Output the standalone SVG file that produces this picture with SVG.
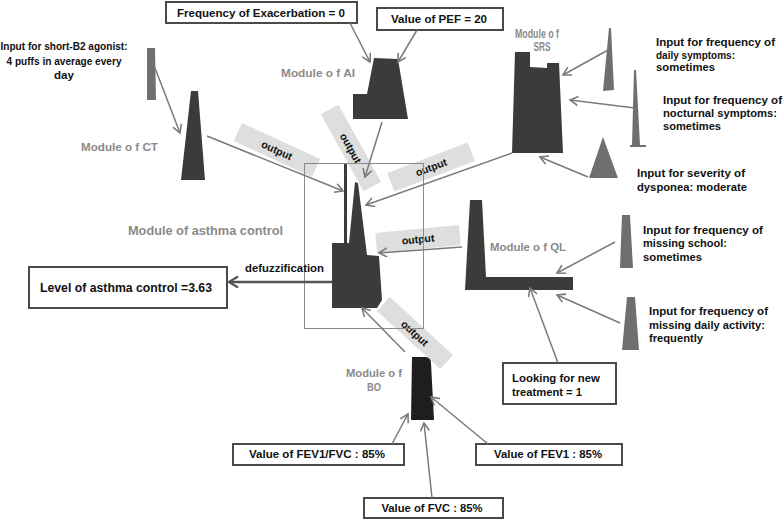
<svg xmlns="http://www.w3.org/2000/svg" width="784" height="520" viewBox="0 0 784 520">
<style>
text{font-family:"Liberation Sans",Arial,sans-serif;font-weight:bold;fill:#111;}
.t{font-size:11.5px;}
.m{font-size:11px;fill:#8a8a8a;}
.c{text-anchor:middle;}
.box{fill:#fff;stroke:#4a4a4a;stroke-width:2;}
.mod{fill:#3b3b3b;}
.inp{fill:#6f6f6f;}
.ob{fill:#dedede;}
.ot{font-size:10.5px;text-anchor:middle;}
.ln{stroke:#7a7a7a;stroke-width:1.5;fill:none;marker-end:url(#ah);}
</style>
<defs>
<marker id="ah" markerUnits="userSpaceOnUse" markerWidth="12" markerHeight="12" refX="9" refY="5" orient="auto">
<path d="M1,0.5 L9,5 L1,9.5" fill="none" stroke="#7a7a7a" stroke-width="1.6"/>
</marker>
<marker id="ah2" markerUnits="userSpaceOnUse" markerWidth="14" markerHeight="14" refX="10" refY="6" orient="auto">
<path d="M1,0.5 L10,6 L1,11.5" fill="none" stroke="#555" stroke-width="2.2"/>
</marker>
</defs>
<rect width="784" height="520" fill="#fff"/>

<g id="output-labels">
<g transform="translate(277,150) rotate(24.7)"><rect class="ob" x="-43" y="-10" width="86" height="20"/><text class="ot" y="4">output</text></g>
<g transform="translate(351,148) rotate(61)"><rect class="ob" x="-44" y="-10" width="88" height="20"/><text class="ot" y="4">output</text></g>
<g transform="translate(431,167) rotate(-20.8)"><rect class="ob" x="-43" y="-10" width="86" height="20"/><text class="ot" y="4">output</text></g>
<g transform="translate(418,239) rotate(-5.5)"><rect class="ob" x="-42" y="-10" width="84" height="20"/><text class="ot" y="4">output</text></g>
<g transform="translate(415,333) rotate(42.6)"><rect class="ob" x="-43" y="-9.5" width="86" height="19"/><text class="ot" y="4">output</text></g>
</g>

<g id="n-ct-input">
<text class="t c" x="64" y="50" textLength="127" lengthAdjust="spacingAndGlyphs">Input for short-B2 agonist:</text>
<text class="t c" x="64" y="65" textLength="115" lengthAdjust="spacingAndGlyphs">4 puffs in average every</text>
<text class="t c" x="64" y="79" textLength="20" lengthAdjust="spacingAndGlyphs">day</text>
<polygon class="inp" points="147,48 155,48 156,100 147,100"/>
</g>

<g id="n-ct">
<polygon class="mod" points="191,91 198,91 205,180 181,180"/>
<text class="m" x="81" y="151" textLength="77" lengthAdjust="spacingAndGlyphs">Module o f  CT</text>
</g>

<g id="n-exac">
<rect class="box" x="166" y="2" width="191" height="21"/>
<text class="t" x="177" y="17" textLength="168" lengthAdjust="spacingAndGlyphs">Frequency of Exacerbation = 0</text>
</g>

<g id="n-pef">
<rect class="box" x="377" y="8" width="126" height="22"/>
<text class="t" x="391" y="23" textLength="96" lengthAdjust="spacingAndGlyphs">Value of PEF = 20</text>
</g>

<g id="n-ai">
<polygon class="mod" points="374,58 398,59 408,119 353,119 353,94 367,94"/>
<text class="m" x="281" y="77" textLength="74" lengthAdjust="spacingAndGlyphs">Module o f  AI</text>
</g>

<g id="n-srs">
<polygon class="mod" points="515,52 530,52 530,67 547,68 547,63 559,63 563,153 512,153"/>
<text class="m c" x="537" y="38" style="font-size:12px" textLength="44" lengthAdjust="spacingAndGlyphs">Module o f</text>
<text class="m c" x="542" y="51" style="font-size:12px" textLength="17" lengthAdjust="spacingAndGlyphs">SRS</text>
</g>

<g id="n-in-daily">
<polygon class="inp" points="609,28 611,28 614,90 603,91"/>
<text class="t" x="656" y="46" textLength="119" lengthAdjust="spacingAndGlyphs">Input for frequency of</text>
<text class="t" x="656" y="59" textLength="79" lengthAdjust="spacingAndGlyphs">daily symptoms:</text>
<text class="t" x="656" y="71" textLength="59" lengthAdjust="spacingAndGlyphs">sometimes</text>
</g>

<g id="n-in-nocturnal">
<polygon class="inp" points="634,70 636,70 640,145 646,145 646,147 630,147 630,145 632,145"/>
<text class="t" x="663" y="104" textLength="119" lengthAdjust="spacingAndGlyphs">Input for frequency of</text>
<text class="t" x="663" y="117" textLength="114" lengthAdjust="spacingAndGlyphs">nocturnal symptoms:</text>
<text class="t" x="663" y="130" textLength="58" lengthAdjust="spacingAndGlyphs">sometimes</text>
</g>

<g id="n-in-dysp">
<polygon class="inp" points="603,137 618,178 589,178"/>
<text class="t" x="637" y="177" textLength="108" lengthAdjust="spacingAndGlyphs">Input for severity of</text>
<text class="t" x="637" y="191" textLength="110" lengthAdjust="spacingAndGlyphs">dysponea: moderate</text>
</g>

<g id="n-asthma">
<rect x="304.5" y="163.5" width="119" height="165" fill="none" stroke="#8a8a8a" stroke-width="1"/>
<polygon class="mod" points="332,243 344,243 344,164 347,164 347,243 349,243 355,182 358,183 367,255 379,256 382,300 377,308 332,308"/>
<text class="m" x="128" y="235" style="font-size:12px" textLength="155" lengthAdjust="spacingAndGlyphs">Module of asthma control</text>
<text class="t" x="245" y="272" textLength="79" lengthAdjust="spacingAndGlyphs">defuzzification</text>
</g>

<g id="n-level">
<rect class="box" x="29" y="267" width="198" height="41"/>
<text class="t" x="40" y="292" style="font-size:12.5px" textLength="172" lengthAdjust="spacingAndGlyphs">Level of asthma control =3.63</text>
</g>

<g id="n-ql">
<polygon class="mod" points="470,200 482,200 486,277 573,277 573,290 465,290"/>
<text class="m" x="490" y="251" textLength="76" lengthAdjust="spacingAndGlyphs">Module o f QL</text>
</g>

<g id="n-in-school">
<polygon class="inp" points="622,215 630,215 633,268 620,268"/>
<text class="t" x="643" y="234" textLength="120" lengthAdjust="spacingAndGlyphs">Input for frequency of</text>
<text class="t" x="643" y="247" textLength="84" lengthAdjust="spacingAndGlyphs">missing school:</text>
<text class="t" x="643" y="261" textLength="59" lengthAdjust="spacingAndGlyphs">sometimes</text>
</g>

<g id="n-in-activity">
<polygon class="inp" points="627,297 635,297 639,350 622,350"/>
<text class="t" x="649" y="315" textLength="119" lengthAdjust="spacingAndGlyphs">Input for frequency of</text>
<text class="t" x="649" y="329" textLength="116" lengthAdjust="spacingAndGlyphs">missing daily activity:</text>
<text class="t" x="649" y="342" textLength="54" lengthAdjust="spacingAndGlyphs">frequently</text>
</g>

<g id="n-newtreat">
<rect class="box" x="503" y="363" width="113" height="41"/>
<text class="t" x="512" y="382" textLength="88" lengthAdjust="spacingAndGlyphs">Looking for new</text>
<text class="t" x="512" y="396" textLength="70" lengthAdjust="spacingAndGlyphs">treatment = 1</text>
</g>

<g id="n-bo">
<path d="M412,357 L426,357 Q431,358 431,363 L434,420 L411,420 Z" fill="#1e1e1e"/>
<text class="m c" x="374" y="377" textLength="56" lengthAdjust="spacingAndGlyphs">Module o f</text>
<text class="m c" x="374" y="391" textLength="14" lengthAdjust="spacingAndGlyphs">BO</text>
</g>

<g id="n-fev1fvc">
<rect class="box" x="233" y="444" width="171" height="21"/>
<text class="t c" x="317" y="458" textLength="136" lengthAdjust="spacingAndGlyphs">Value of FEV1/FVC : 85%</text>
</g>

<g id="n-fev1">
<rect class="box" x="476" y="444" width="146" height="21"/>
<text class="t c" x="548" y="458" textLength="108" lengthAdjust="spacingAndGlyphs">Value of FEV1 : 85%</text>
</g>

<g id="n-fvc">
<rect class="box" x="364" y="498" width="139" height="20"/>
<text class="t c" x="432" y="512" textLength="101" lengthAdjust="spacingAndGlyphs">Value of FVC : 85%</text>
</g>

<g id="connectors">
<line class="ln" x1="155" y1="68" x2="180" y2="133"/>
<line class="ln" x1="350" y1="23" x2="370" y2="62"/>
<line class="ln" x1="417" y1="30" x2="398" y2="62"/>
<line class="ln" x1="608" y1="50" x2="563" y2="75"/>
<line class="ln" x1="635" y1="108" x2="570" y2="100"/>
<line class="ln" x1="588" y1="177" x2="540" y2="157"/>
<line class="ln" x1="207" y1="136" x2="343" y2="191"/>
<line class="ln" x1="382" y1="122" x2="365" y2="177"/>
<line class="ln" x1="512" y1="153" x2="366" y2="205"/>
<line class="ln" x1="462" y1="247" x2="379" y2="253"/>
<line class="ln" x1="405" y1="352" x2="362" y2="308"/>
<line class="ln" x1="615" y1="242" x2="557" y2="273"/>
<line class="ln" x1="620" y1="323" x2="557" y2="295"/>
<line class="ln" x1="558" y1="363" x2="530" y2="288"/>
<line class="ln" x1="392" y1="444" x2="408" y2="414"/>
<line class="ln" x1="488" y1="444" x2="431" y2="397"/>
<line class="ln" x1="432" y1="498" x2="424" y2="423"/>
<line x1="332" y1="282" x2="229" y2="282" stroke="#555" stroke-width="2.5" marker-end="url(#ah2)"/>
</g>
</svg>
